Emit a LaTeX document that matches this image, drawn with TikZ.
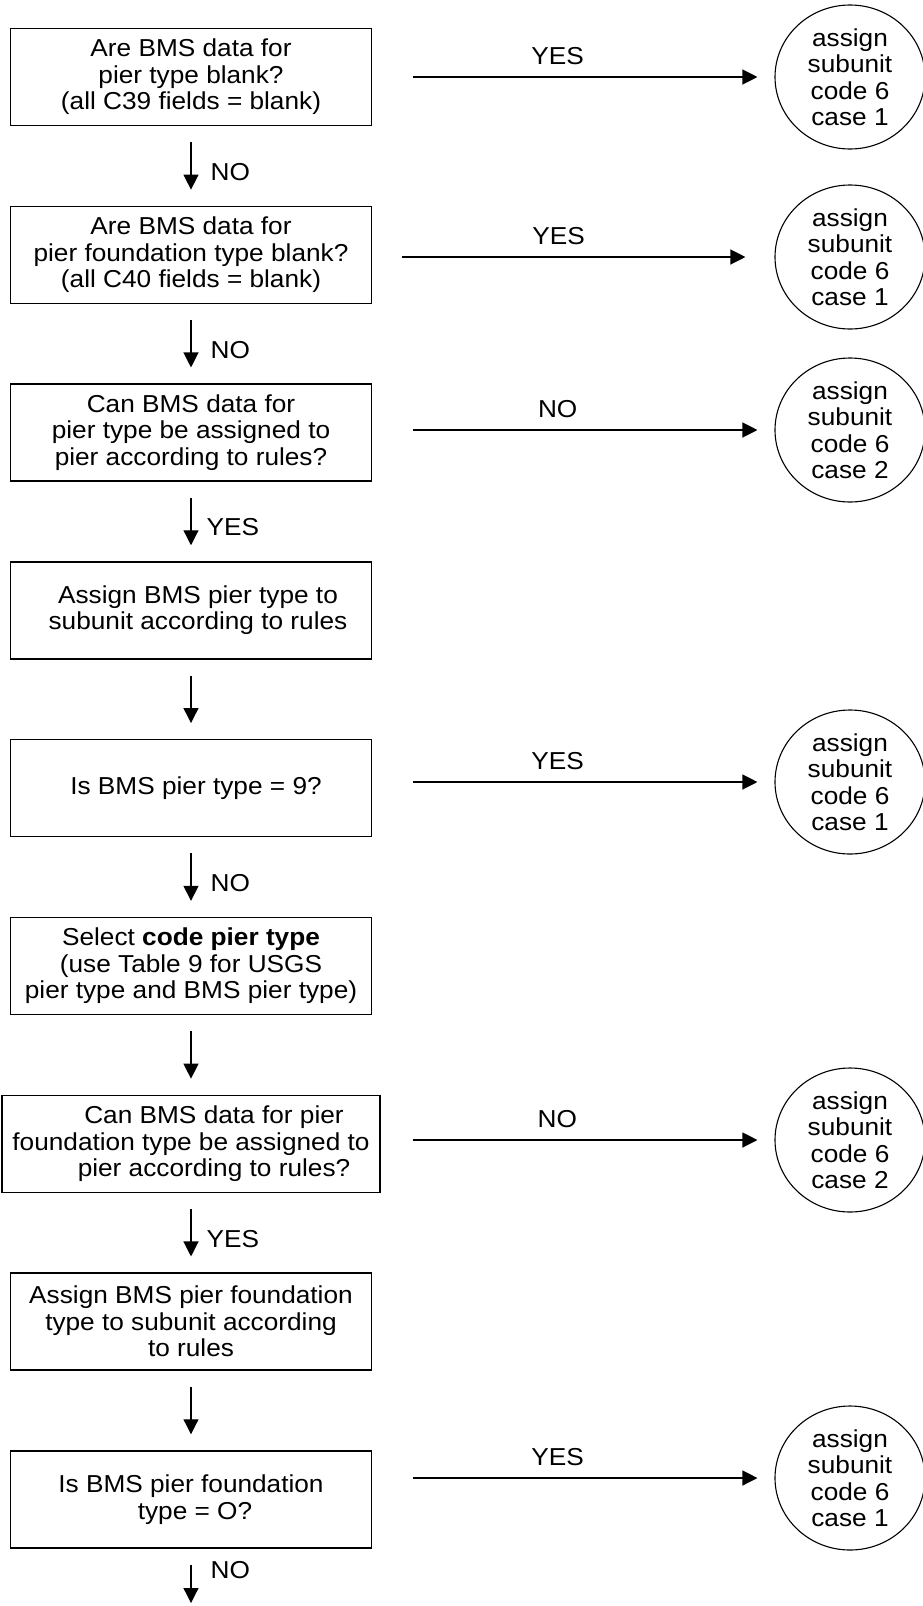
\documentclass[tikz,border=0pt]{standalone}
\usepackage{fontspec}
\setmainfont{Liberation Sans}[FakeStretch=1.07]
\usetikzlibrary{positioning,arrows.meta,shapes.geometric}

\begin{document}
\begin{tikzpicture}[x=1pt, y=-1pt,
    every node/.style={font=\fontsize{24.5}{26.5}\selectfont},
    qbox/.style={draw, line width=1.3pt, minimum width=361pt, minimum height=97pt,
                 align=center, inner sep=0pt},
    outcome/.style={draw, ellipse, line width=1.1pt, minimum width=150pt,
                    minimum height=144pt, align=center, inner sep=0pt},
    flow/.style={line width=1.2pt, -{Triangle[length=15pt,width=15pt]}},
    down/.style={flow, shorten <=16pt, shorten >=16pt},
    across/.style={flow, shorten >=17pt},
    dlabel/.style={midway, anchor=west, xshift=19pt, yshift=-6pt, inner sep=0pt},
    hlabel/.style={pos=0.4, anchor=south, yshift=12pt, inner sep=0pt}]
  \useasboundingbox (0,0) rectangle (923,1606);

  % question / action boxes
  \node[qbox] (b1) at (191,77) {Are BMS data for\\pier type blank?\\(all C39 fields = blank)};
  \node[qbox, below=79.5pt of b1] (b2) {Are BMS data for\\pier foundation type blank?\\(all C40 fields = blank)};
  \node[qbox, below=79.5pt of b2] (b3) {Can BMS data for\\pier type be assigned to\\pier according to rules?};
  \node[qbox, below=79.5pt of b3] (b4) {\hspace*{14pt}Assign BMS pier type to\\\hspace*{14pt}subunit according to rules};
  \node[qbox, below=79.5pt of b4] (b5) {\hspace*{10pt}Is BMS pier type = 9?};
  \node[qbox, below=79.5pt of b5] (b6) {Select \textbf{code pier type}\\(use Table 9 for USGS\\pier type and BMS pier type)};
  \node[qbox, minimum width=378pt, below=79.5pt of b6] (b7) {\hspace*{46pt}Can BMS data for pier\\foundation type be assigned to\\\hspace*{46pt}pier according to rules?};
  \node[qbox, below=79.5pt of b7] (b8) {Assign BMS pier foundation\\type to subunit according\\to rules};
  \node[qbox, below=79.5pt of b8] (b9) {Is BMS pier foundation\\\hspace*{8pt}type = O?};

  % outcomes
  \node[outcome] (c1) at (850,77) {assign\\subunit\\code 6\\case 1};
  \node[outcome] (c2) at (850,257) {assign\\subunit\\code 6\\case 1};
  \node[outcome] (c3) at (850,430) {assign\\subunit\\code 6\\case 2};
  \node[outcome] (c5) at (850,782) {assign\\subunit\\code 6\\case 1};
  \node[outcome] (c7) at (850,1140) {assign\\subunit\\code 6\\case 2};
  \node[outcome] (c9) at (850,1478) {assign\\subunit\\code 6\\case 1};

  % main line
  \draw[down] (b1) -- node[dlabel] {NO} (b2);
  \draw[down] (b2) -- node[dlabel] {NO} (b3);
  \draw[down] (b3) -- node[dlabel, xshift=-4pt] {YES} (b4);
  \draw[down] (b4) -- (b5);
  \draw[down] (b5) -- node[dlabel] {NO} (b6);
  \draw[down] (b6) -- (b7);
  \draw[down] (b7) -- node[dlabel, xshift=-4pt] {YES} (b8);
  \draw[down] (b8) -- (b9);
  \coordinate (tail) at (191,1603);
  \draw[flow, shorten <=16pt] (b9) -- node[dlabel, pos=0.28] {NO} (tail);

  % side exits
  \draw[across] (c1.west -| b1.east) ++(41,0) -- node[hlabel] {YES} (c1);
  \draw[across, shorten >=29pt] (c2.west -| b2.east) ++(30,0) -- node[hlabel, pos=0.42] {YES} (c2);
  \draw[across] (c3.west -| b3.east) ++(41,0) -- node[hlabel] {NO} (c3);
  \draw[across] (c5.west -| b5.east) ++(41,0) -- node[hlabel] {YES} (c5);
  \draw[across] (c7.west -| b7.east) ++(32,0) -- node[hlabel] {NO} (c7);
  \draw[across] (c9.west -| b9.east) ++(41,0) -- node[hlabel] {YES} (c9);
\end{tikzpicture}
\end{document}
